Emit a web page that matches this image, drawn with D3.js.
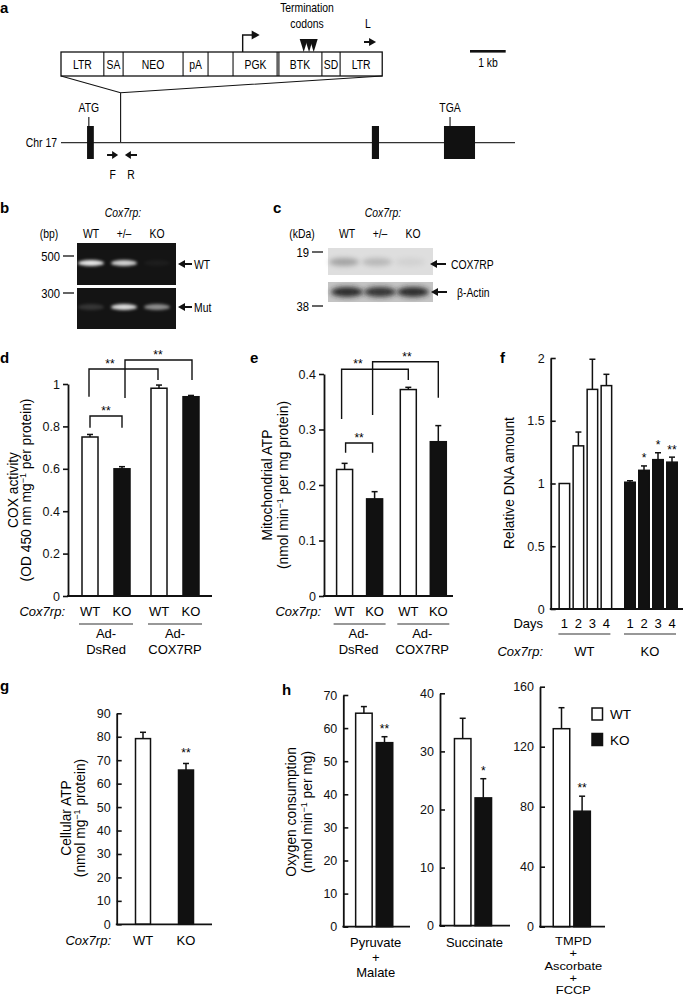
<!DOCTYPE html>
<html>
<head>
<meta charset="utf-8">
<script src="https://cdn.jsdelivr.net/npm/d3@7"></script>
<style>
  body { margin: 0; background: #fff; }
  svg { font-family: "Liberation Sans", Arial, Helvetica, sans-serif; }
</style>
</head>
<body>
<script>
// ---------- data ----------
// panel a: targeting map, in kb
const chrLength = 12.72;
const cassetteLabels = ["LTR", "SA", "NEO", "pA", "", "PGK", "BTK", "SD", "LTR"];
const cassetteEdges = [0, 1.2, 1.74, 3.42, 4.12, 4.82, 6.08, 7.31, 7.82, 9.0];
const insertionSite = 1.67;
const exons = [[0.73, 0.92], [8.71, 8.91], [10.73, 11.6]];
const siteLabels = [{ name: "ATG", at: 0.78 }, { name: "TGA", at: 10.9 }];
const primers = [{ name: "F", from: 1.29, to: 1.6 }, { name: "R", from: 2.13, to: 1.79 }];
const promoterAt = 5.09;
const stopCodons = [6.8, 6.95, 7.08];
const lPrimer = [8.49, 8.8];

// panels b, c: gel and blot band intensities
const lanes = ["WT", "+/–", "KO"];
const pcrWT = [0.95, 0.85, 0.04];
const pcrMut = [0.15, 0.9, 0.55];
const blotCox = [0.5, 0.32, 0.1];
const blotActin = [0.95, 0.9, 0.95];

// panel d: COX activity
const adGroups = ["Ad-DsRed", "Ad-COX7RP"];
const genotypes = ["WT", "KO"];
const dMean = [[0.75, 0.60], [0.98, 0.94]];
const dErr = [[0.012, 0.01], [0.015, 0.006]];
const dTicks = [0, 0.2, 0.4, 0.6, 0.8, 1];

// panel e: mitochondrial ATP
const eMean = [[0.228, 0.175], [0.372, 0.278]];
const eErr = [[0.011, 0.013], [0.004, 0.029]];
const eTicks = [0, 0.1, 0.2, 0.3, 0.4];

// panel f: relative DNA amount
const days = [1, 2, 3, 4];
const fMean = { WT: [1.0, 1.30, 1.75, 1.78], KO: [1.01, 1.105, 1.19, 1.17] };
const fErr = { WT: [0, 0.11, 0.24, 0.09], KO: [0.012, 0.035, 0.055, 0.04] };
const fStars = ["", "*", "*", "**"];
const fTicks = [0, 0.5, 1, 1.5, 2];

// panel g: cellular ATP
const gMean = [79.2, 65.8];
const gErr = [2.7, 2.8];
const gTicks = [0, 10, 20, 30, 40, 50, 60, 70, 80, 90];

// panel h: oxygen consumption
const substrates = [["Pyruvate", "+", "Malate"], ["Succinate"], ["TMPD", "+", "Ascorbate", "+", "FCCP"]];
const hMean = [[64.5, 55.6], [32.2, 22.0], [132, 77]];
const hErr = [[2.0, 1.8], [3.5, 3.3], [14, 10]];
const hStars = ["**", "*", "**"];
const hTicks = [[0, 10, 20, 30, 40, 50, 60, 70], [0, 10, 20, 30, 40], [0, 40, 80, 120, 160]];

// ---------- setup ----------
const svg = d3.select("body").append("svg").attr("width", 685).attr("height", 996);
const defs = svg.append("defs");
defs.append("filter").attr("id", "blur1").attr("x", "-50%").attr("y", "-100%").attr("width", "200%").attr("height", "300%")
  .append("feGaussianBlur").attr("stdDeviation", 1.6);
defs.append("filter").attr("id", "blur2").attr("x", "-50%").attr("y", "-100%").attr("width", "200%").attr("height", "300%")
  .append("feGaussianBlur").attr("stdDeviation", 2.6);

// opt.sx squeezes the text horizontally (the map and blot labels are narrow)
function text(g, x, y, s, opt = {}) {
  const t = g.append("text")
    .attr("text-anchor", opt.anchor || "middle")
    .attr("font-size", opt.size || 13)
    .attr("font-weight", opt.weight || null)
    .attr("font-style", opt.italic ? "italic" : null)
    .text(s);
  if (opt.sx) t.attr("transform", `translate(${x},${y}) scale(${opt.sx},1)`);
  else t.attr("x", x).attr("y", y);
  return t;
}
const NARROW = { sx: 0.8, size: 13 };
const narrow = (o = {}) => Object.assign({}, NARROW, o);
function letter(x, y, s) { text(svg, x, y, s, { anchor: "start", size: 15, weight: "bold" }); }

// rotated label with superscripts
function rotLabel(x, y, segs) {
  const t = svg.append("text").attr("transform", `translate(${x},${y}) rotate(-90)`)
    .attr("text-anchor", "middle").attr("font-size", 13.8);
  let up = false;
  segs.forEach(s => {
    const sp = t.append("tspan").text(s[0]);
    if (s[1]) { sp.attr("dy", -5).attr("font-size", 9); up = true; }
    else if (up) { sp.attr("dy", 5); up = false; }
  });
}

function arrowHead(g, x, y, dir, len = 7, h = 8) {
  g.append("path").attr("d", `M${x},${y - h / 2}L${x + dir * len},${y}L${x},${y + h / 2}Z`).attr("fill", "#111");
}

function yAxis(g, y, ticks, x0, x1, inward) {
  const ax = g.append("g").attr("transform", `translate(${x0},0)`)
    .call(d3.axisLeft(y).tickValues(ticks).tickSizeInner(inward ? -5 : 5).tickSizeOuter(0)
      .tickPadding(inward ? 6 : 3).tickFormat(d3.format("")));
  ax.attr("font-family", null).attr("font-size", 12.5);
  ax.select(".domain").attr("stroke", "#111").attr("stroke-width", 1.8);
  ax.selectAll(".tick line").attr("stroke", "#111").attr("stroke-width", 1.6);
  ax.selectAll(".tick text").attr("fill", "#111");
  g.append("line").attr("x1", x0 - 0.9).attr("x2", x1).attr("y1", y(0)).attr("y2", y(0))
    .attr("stroke", "#111").attr("stroke-width", 1.8);
}

function bars(g, data, y, w) {
  data.forEach(d => {
    g.append("rect").attr("x", d.cx - w / 2).attr("y", y(d.v)).attr("width", w).attr("height", y(0) - y(d.v))
      .attr("fill", d.fill).attr("stroke", "#111").attr("stroke-width", 1.5);
    if (d.e > 0) {
      g.append("line").attr("x1", d.cx).attr("x2", d.cx).attr("y1", y(d.v)).attr("y2", y(d.v + d.e))
        .attr("stroke", "#111").attr("stroke-width", 1.5);
      g.append("line").attr("x1", d.cx - 3).attr("x2", d.cx + 3).attr("y1", y(d.v + d.e)).attr("y2", y(d.v + d.e))
        .attr("stroke", "#111").attr("stroke-width", 1.5);
    }
  });
}

function bracket(g, xa, xb, y, top, legA, legB, stars, sx) {
  g.append("path").attr("d", `M${xa},${y(legA)}V${y(top)}H${xb}V${y(legB)}`)
    .attr("fill", "none").attr("stroke", "#111").attr("stroke-width", 1.4);
  text(g, sx === undefined ? (xa + xb) / 2 : sx, y(top) - 1, stars, { size: 12 });
}

// ---------- panel a ----------
const pa = svg.append("g");
const kb = d3.scaleLinear().domain([0, chrLength]).range([61, 515]);
const boxTop = 52, boxBot = 76, chrY = 142.7, trapY = 92.7;
letter(0, 13, "a");

pa.append("rect").attr("x", kb(0)).attr("y", boxTop).attr("width", kb(9) - kb(0)).attr("height", boxBot - boxTop)
  .attr("fill", "#fff").attr("stroke", "#111").attr("stroke-width", 1.3);
cassetteEdges.slice(1, -1).forEach((e, i) => {
  const offs = cassetteLabels[i + 1] === "BTK" ? [-0.9, 0.9] : [0];
  offs.forEach(o => pa.append("line").attr("x1", kb(e) + o).attr("x2", kb(e) + o).attr("y1", boxTop).attr("y2", boxBot)
    .attr("stroke", "#111").attr("stroke-width", 1.1));
});
cassetteLabels.forEach((l, i) => text(pa, (kb(cassetteEdges[i]) + kb(cassetteEdges[i + 1])) / 2, 68.5, l, narrow()));

pa.append("path").attr("d", `M${kb(0)},${boxBot}L${kb(insertionSite)},${trapY}L${kb(9)},${boxBot}M${kb(insertionSite)},${trapY}V${chrY}`)
  .attr("fill", "none").attr("stroke", "#111").attr("stroke-width", 1.1);

// promoter arrow
pa.append("path").attr("d", `M${kb(promoterAt)},${boxTop}V35H${kb(promoterAt) + 10}`)
  .attr("fill", "none").attr("stroke", "#111").attr("stroke-width", 1.4);
arrowHead(pa, kb(promoterAt) + 9, 35, 1, 8, 9);
// termination codons
stopCodons.forEach(c => pa.append("path").attr("d", `M${kb(c) - 4},39L${kb(c) + 4},39L${kb(c)},52Z`).attr("fill", "#111"));
text(pa, 307, 12, "Termination", narrow());
text(pa, 307, 28, "codons", narrow());
// L primer
pa.append("line").attr("x1", kb(lPrimer[0])).attr("x2", kb(lPrimer[1]) - 5).attr("y1", 42).attr("y2", 42)
  .attr("stroke", "#111").attr("stroke-width", 2);
arrowHead(pa, kb(lPrimer[1]) - 6, 42, 1, 7, 8);
text(pa, 368, 28, "L", narrow());
// scale bar
pa.append("rect").attr("x", 470).attr("y", 50).attr("width", kb(1) - kb(0)).attr("height", 2.6).attr("fill", "#111");
text(pa, 488, 67, "1 kb", narrow());

// chromosome
pa.append("line").attr("x1", kb(0)).attr("x2", kb(chrLength)).attr("y1", chrY).attr("y2", chrY)
  .attr("stroke", "#333").attr("stroke-width", 1.3);
text(pa, 57, 147, "Chr 17", narrow({ anchor: "end" }));
exons.forEach(e => pa.append("rect").attr("x", kb(e[0])).attr("y", 126).attr("width", kb(e[1]) - kb(e[0])).attr("height", 33)
  .attr("fill", "#111"));
siteLabels.forEach(s => {
  pa.append("line").attr("x1", kb(s.at)).attr("x2", kb(s.at)).attr("y1", 117).attr("y2", 126).attr("stroke", "#111").attr("stroke-width", 1.1);
  text(pa, kb(s.at), 112, s.name, narrow());
});
primers.forEach(p => {
  const dir = p.to > p.from ? 1 : -1;
  pa.append("line").attr("x1", kb(p.from)).attr("x2", kb(p.to) - dir * 5).attr("y1", 155).attr("y2", 155)
    .attr("stroke", "#111").attr("stroke-width", 2);
  arrowHead(pa, kb(p.to) - dir * 6, 155, dir, 6, 8);
  text(pa, (kb(p.from) + kb(p.to)) / 2, 179, p.name, narrow());
});

// ---------- panel b ----------
const pb = svg.append("g");
letter(0, 213, "b");
const laneB = d3.scalePoint().domain(lanes).range([91, 157]);
text(pb, 123, 217, "Cox7rp:", narrow({ italic: true }));
text(pb, 49, 238, "(bp)", narrow());
lanes.forEach(l => text(pb, laneB(l), 238, l, narrow()));
[[243, 285, pcrWT, 263], [288, 329, pcrMut, 307]].forEach(([t, b, vals, by]) => {
  pb.append("rect").attr("x", 77).attr("y", t).attr("width", 99).attr("height", b - t).attr("fill", "#141414");
  lanes.forEach((l, i) => pb.append("ellipse").attr("cx", laneB(l)).attr("cy", by).attr("rx", 13).attr("ry", 3)
    .attr("fill", "#f2f2f2").attr("opacity", vals[i]).attr("filter", "url(#blur1)"));
});
[["500", 256], ["300", 293]].forEach(([s, y]) => {
  text(pb, 60, y + 4.5, s, { anchor: "end", size: 12.5, sx: 0.9 });
  pb.append("line").attr("x1", 63).attr("x2", 74).attr("y1", y).attr("y2", y).attr("stroke", "#111").attr("stroke-width", 1.3);
});
[["WT", 264], ["Mut", 307]].forEach(([s, y]) => {
  pb.append("line").attr("x1", 184).attr("x2", 192).attr("y1", y).attr("y2", y).attr("stroke", "#111").attr("stroke-width", 2);
  arrowHead(pb, 185, y, -1, 7, 8);
  text(pb, 194, y + 4.5, s, narrow({ anchor: "start" }));
});

// ---------- panel c ----------
const pc = svg.append("g");
letter(273, 213, "c");
const laneC = d3.scalePoint().domain(lanes).range([347, 413]);
text(pc, 383, 217, "Cox7rp:", narrow({ italic: true }));
text(pc, 302, 238, "(kDa)", narrow());
lanes.forEach(l => text(pc, laneC(l), 238, l, narrow()));
pc.append("rect").attr("x", 328).attr("y", 248).attr("width", 105).attr("height", 27).attr("fill", "#dedede");
lanes.forEach((l, i) => pc.append("ellipse").attr("cx", laneC(l) - 3).attr("cy", 262).attr("rx", 15).attr("ry", 4)
  .attr("fill", "#666").attr("opacity", blotCox[i]).attr("filter", "url(#blur2)"));
pc.append("rect").attr("x", 328).attr("y", 282).attr("width", 105).attr("height", 20).attr("fill", "#c4c4c4");
lanes.forEach((l, i) => pc.append("ellipse").attr("cx", laneC(l)).attr("cy", 292).attr("rx", 16).attr("ry", 5)
  .attr("fill", "#202020").attr("opacity", blotActin[i]).attr("filter", "url(#blur2)"));
[["19", 252], ["38", 306]].forEach(([s, y]) => {
  text(pc, 309, y + 4.5, s, { anchor: "end", size: 12.5, sx: 0.9 });
  pc.append("line").attr("x1", 312).attr("x2", 323).attr("y1", y).attr("y2", y).attr("stroke", "#111").attr("stroke-width", 1.3);
});
[["COX7RP", 264, 436, 451], ["β-Actin", 292, 437, 457]].forEach(([s, y, ax, tx]) => {
  pc.append("line").attr("x1", ax).attr("x2", ax + 10).attr("y1", y).attr("y2", y).attr("stroke", "#111").attr("stroke-width", 2);
  arrowHead(pc, ax + 1, y, -1, 7, 8);
  text(pc, tx, y + 4.5, s, narrow({ anchor: "start" }));
});

// ---------- panel d ----------
const pd = svg.append("g");
letter(0, 363, "d");
const yD = d3.scaleLinear().domain([0, 1]).range([596, 384]);
const grpD = d3.scalePoint().domain(adGroups).range([106, 175]);
const genD = d3.scalePoint().domain(genotypes).range([-16, 16]);
const xD = (gi, k) => grpD(adGroups[gi]) + genD(genotypes[k]);
bars(pd, adGroups.flatMap((g, gi) => genotypes.map((t, k) => ({ cx: xD(gi, k), v: dMean[gi][k], e: dErr[gi][k], fill: k ? "#111" : "#fff" }))), yD, 16);
yAxis(pd, yD, dTicks, 68, 212, false);
bracket(pd, xD(0, 0), xD(0, 1), yD, 0.849, 0.794, 0.794, "**");
bracket(pd, xD(0, 0) - 1, xD(1, 0) - 1, yD, 1.071, 0.94, 1.019, "**", 110);
bracket(pd, xD(0, 1) + 3, xD(1, 1) + 1, yD, 1.113, 0.934, 1.019, "**", 158);
rotLabel(18, 490, [["COX activity"]]);
rotLabel(31, 490, [["(OD 450 nm mg"], ["−1", true], [" per protein)"]]);
text(pd, 65, 616, "Cox7rp:", { anchor: "end", italic: true });
adGroups.forEach((g, gi) => {
  genotypes.forEach((t, k) => text(pd, xD(gi, k), 616, t));
  pd.append("line").attr("x1", grpD(g) - 27).attr("x2", grpD(g) + 27).attr("y1", 624).attr("y2", 624).attr("stroke", "#333").attr("stroke-width", 1.2);
  text(pd, grpD(g), 638, "Ad-");
  text(pd, grpD(g), 654, g.slice(3));
});

// ---------- panel e ----------
const pe = svg.append("g");
letter(250, 363, "e");
const yE = d3.scaleLinear().domain([0, 0.4]).range([596, 374]);
const grpE = d3.scalePoint().domain(adGroups).range([359.6, 423.3]);
const genE = d3.scalePoint().domain(genotypes).range([-15, 15]);
const xE = (gi, k) => grpE(adGroups[gi]) + genE(genotypes[k]);
bars(pe, adGroups.flatMap((g, gi) => genotypes.map((t, k) => ({ cx: xE(gi, k), v: eMean[gi][k], e: eErr[gi][k], fill: k ? "#111" : "#fff" }))), yE, 16);
yAxis(pe, yE, eTicks, 324, 453, false);
bracket(pe, xE(0, 0) + 1, xE(0, 1) - 2, yE, 0.2757, 0.258, 0.258, "**");
bracket(pe, xE(0, 0) - 3, xE(1, 0), yE, 0.4085, 0.319, 0.389, "**", 358);
bracket(pe, xE(0, 1) - 2, xE(1, 1), yE, 0.422, 0.326, 0.357, "**", 407);
rotLabel(272, 485, [["Mitochondrial ATP"]]);
rotLabel(288, 485, [["(nmol min"], ["−1", true], [" per mg protein)"]]);
text(pe, 321, 616, "Cox7rp:", { anchor: "end", italic: true });
adGroups.forEach((g, gi) => {
  genotypes.forEach((t, k) => text(pe, xE(gi, k), 616, t));
  pe.append("line").attr("x1", grpE(g) - 26).attr("x2", grpE(g) + 26).attr("y1", 624).attr("y2", 624).attr("stroke", "#333").attr("stroke-width", 1.2);
  text(pe, grpE(g) - 1, 638, "Ad-");
  text(pe, grpE(g) - 1, 654, g.slice(3));
});

// ---------- panel f ----------
const pf = svg.append("g");
letter(500, 363, "f");
const yF = d3.scaleLinear().domain([0, 2]).range([609, 358]);
const grpF = d3.scalePoint().domain(genotypes).range([585.4, 651]);
const dayF = d3.scalePoint().domain(days).range([-21, 21]);
const fBars = genotypes.flatMap((t, k) => days.map((d, i) => ({ cx: grpF(t) + dayF(d), v: fMean[t][i], e: fErr[t][i], fill: k ? "#111" : "#fff" })));
bars(pf, fBars, yF, 10.5);
yAxis(pf, yF, fTicks, 550.7, 683, true);
days.forEach((d, i) => {
  if (fStars[i]) text(pf, grpF("KO") + dayF(d), yF(fMean.KO[i] + fErr.KO[i]) - 3.5, fStars[i], { size: 12 });
});
rotLabel(514, 483, [["Relative DNA amount"]]);
text(pf, 543, 628, "Days", { anchor: "end" });
text(pf, 543, 656, "Cox7rp:", { anchor: "end", italic: true });
genotypes.forEach(t => {
  days.forEach(d => text(pf, grpF(t) + dayF(d), 628, d));
  pf.append("line").attr("x1", grpF(t) - 27).attr("x2", grpF(t) + 25).attr("y1", 634).attr("y2", 634).attr("stroke", "#333").attr("stroke-width", 1.2);
  text(pf, grpF(t) - 1, 656, t);
});

// ---------- panel g ----------
const pg = svg.append("g");
letter(0, 691, "g");
const yG = d3.scaleLinear().domain([0, 90]).range([924.3, 713.3]);
const xG = d3.scalePoint().domain(genotypes).range([143, 186]);
bars(pg, genotypes.map((t, k) => ({ cx: xG(t), v: gMean[k], e: gErr[k], fill: k ? "#111" : "#fff" })), yG, 15);
yAxis(pg, yG, gTicks, 116.7, 212, true);
text(pg, xG("KO"), yG(gMean[1] + gErr[1]) - 6, "**", { size: 12 });
rotLabel(71, 818, [["Cellular ATP"]]);
rotLabel(85, 818, [["(nmol mg"], ["−1", true], [" protein)"]]);
text(pg, 111, 945, "Cox7rp:", { anchor: "end", italic: true });
genotypes.forEach(t => text(pg, xG(t), 945, t));

// ---------- panel h ----------
const ph = svg.append("g");
letter(282, 695, "h");
const hAxes = [
  { x0: 343.3, x1: 410, y0: 926.7, y1: 695, mid: 374.2 },
  { x0: 440, x1: 510, y0: 925.7, y1: 693.3, mid: 473 },
  { x0: 540, x1: 605, y0: 926.7, y1: 686.7, mid: 571.8 }
];
substrates.forEach((s, si) => {
  const ax = hAxes[si];
  const yH = d3.scaleLinear().domain([0, d3.max(hTicks[si])]).range([ax.y0, ax.y1]);
  const xH = d3.scalePoint().domain(genotypes).range([ax.mid - 10.3, ax.mid + 10.3]);
  bars(ph, genotypes.map((t, k) => ({ cx: xH(t), v: hMean[si][k], e: hErr[si][k], fill: k ? "#111" : "#fff" })), yH, 16.5);
  yAxis(ph, yH, hTicks[si], ax.x0, ax.x1, true);
  text(ph, xH("KO"), yH(hMean[si][1] + hErr[si][1]) - 4, hStars[si], { size: 12 });
  // stacked substrate names; the long stack is set tighter (slightly smaller, widened)
  const tight = s.length > 3;
  const lbl = ph.append("text").attr("text-anchor", "middle").attr("font-size", tight ? 10.9 : 13)
    .attr("transform", `translate(${ax.mid + 1.5},${tight ? 945 : 946.5}) scale(${tight ? 1.18 : 1},1)`);
  s.forEach((w, wi) => lbl.append("tspan").attr("x", 0).attr("y", wi * (tight ? 12.3 : 15)).text(w));
});
rotLabel(296, 812, [["Oxygen consumption"]]);
rotLabel(312, 812, [["(nmol min"], ["−1", true], [" per mg)"]]);
// legend
genotypes.forEach((t, k) => {
  ph.append("rect").attr("x", 592).attr("y", 708 + k * 25.5).attr("width", 10.5).attr("height", 12)
    .attr("fill", k ? "#111" : "#fff").attr("stroke", "#111").attr("stroke-width", 1.5);
  text(ph, 610, 719 + k * 25.5, t, { anchor: "start", size: 13.5 });
});
</script>
</body>
</html>
